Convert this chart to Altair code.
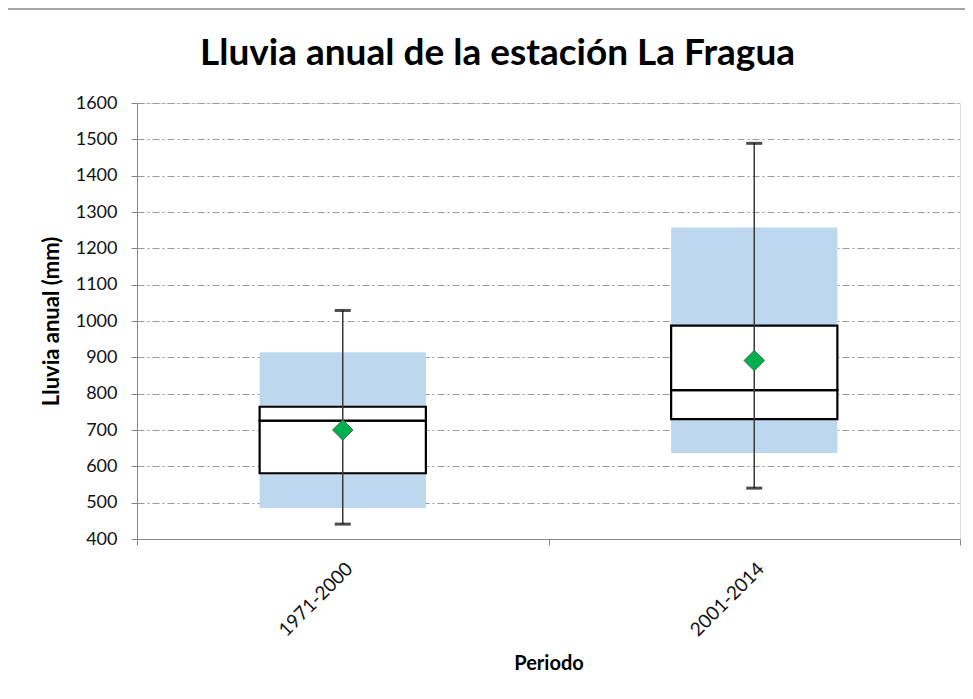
import altair as alt
import pandas as pd

periods = ["1971-2000", "2001-2014"]
vmin = [441, 540]
q1 = [581, 730]
median = [726, 810]
q3 = [764, 987]
vmax = [1029, 1489]
mean = [700, 891]
band_lo = [485, 637]
band_hi = [914, 1257]
y_ticks = [400, 500, 600, 700, 800, 900, 1000, 1100, 1200, 1300, 1400, 1500, 1600]

df = pd.DataFrame({
    "Periodo": periods, "min": vmin, "q1": q1, "median": median,
    "q3": q3, "max": vmax, "mean": mean, "lo": band_lo, "hi": band_hi,
})

FONT = "Lato"
x = alt.X("Periodo:N", sort=periods, title="Periodo",
          scale=alt.Scale(paddingInner=0, paddingOuter=0),
          axis=alt.Axis(labelAngle=-45, tickBand="extent", labelFontSize=19,
                        labelFont=FONT, labelColor="#111", titleFontSize=20,
                        titleFont=FONT, titleFontWeight="bold", titleColor="#000",
                        titlePadding=14, tickSize=6, tickColor="#868686",
                        domainColor="#868686", labelPadding=14, grid=False))
yscale = alt.Scale(domain=[400, 1600], nice=False, zero=False)
yaxis = alt.Axis(values=y_ticks, format="d", labelOverlap=False,
                 title="Lluvia anual (mm)",
                 labelFontSize=18, labelFont=FONT, labelColor="#111",
                 titleFontSize=22, titleFont=FONT, titleFontWeight="bold",
                 titleColor="#000", titlePadding=12, tickSize=6,
                 tickColor="#868686", domainColor="#868686", labelPadding=14,
                 grid=True, gridColor="#9a9a9a", gridDash=[7, 3, 2, 3],
                 gridWidth=1)


def Y(field):
    return alt.Y(field, scale=yscale, axis=yaxis)


base = alt.Chart(df)

blue = base.mark_bar(color="#BDD7EE", width={"band": 0.404}).encode(
    x=x, y=Y("lo:Q"), y2="hi:Q")
box_low = base.mark_bar(fill="white", stroke="black", strokeWidth=2.2,
                        width={"band": 0.404}).encode(
    x=x, y=Y("q1:Q"), y2="median:Q")
box_high = base.mark_bar(fill="white", stroke="black", strokeWidth=2.2,
                         width={"band": 0.404}).encode(
    x=x, y=Y("median:Q"), y2="q3:Q")
whisker = base.mark_rule(color="#3a3a3a", strokeWidth=1.5).encode(
    x=x, y=Y("min:Q"), y2="max:Q")
cap_min = base.mark_tick(color="black", size=16, thickness=3, orient="horizontal").encode(
    x=x, y=Y("min:Q"))
cap_max = base.mark_tick(color="black", size=16, thickness=3, orient="horizontal").encode(
    x=x, y=Y("max:Q"))
mean_pt = base.mark_point(shape="diamond", filled=True, fill="#00B050",
                          stroke="#3f6f4a", strokeWidth=1, opacity=1,
                          size=420).encode(
    x=x, y=Y("mean:Q"))

border_top = alt.Chart(df).mark_rule(color="#8a8a8a", strokeWidth=1).encode(
    x=alt.value(-130), x2=alt.value(900), y=alt.value(-94))
border_left = alt.Chart(df).mark_rule(color="#8a8a8a", strokeWidth=1).encode(
    x=alt.value(-130), y=alt.value(-94), y2=alt.value(600))

chart = alt.layer(blue, box_low, box_high, whisker, cap_min, cap_max, mean_pt,
                  border_top, border_left).properties(
    width=823, height=436,
    title=alt.TitleParams("Lluvia anual de la estación La Fragua", font=FONT,
                          fontSize=37, fontWeight="bold", color="#000",
                          anchor="middle", dx=-51, offset=0, dy=64),
    autosize="none",
    padding={"left": 129, "top": 95, "right": 5, "bottom": 150},
).configure_view(stroke=None).configure(background="white")

chart.save("out.html", embed_options={"renderer": "svg", "actions": False})
